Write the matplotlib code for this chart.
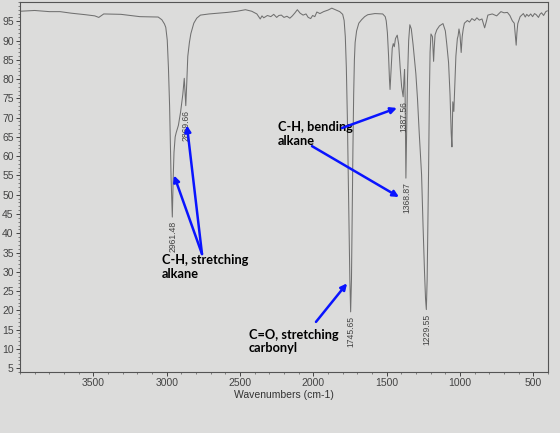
import matplotlib.pyplot as plt
from matplotlib.ticker import MultipleLocator

# IR spectrum (wavenumber cm-1, %T)
wavenumber = [
    4000, 3900, 3800, 3727, 3651, 3553, 3490, 3463, 3440, 3429, 3312, 3183,
    3058, 3033, 3015, 3006, 2996, 2988, 2980, 2970, 2961.48, 2955, 2950, 2942,
    2935, 2920, 2905, 2890, 2880, 2875, 2869.66, 2863, 2856, 2845, 2835, 2815,
    2795, 2770, 2711, 2650, 2587, 2520, 2463, 2420, 2385, 2362, 2350, 2338,
    2313, 2290, 2270, 2250, 2235, 2218, 2200, 2180, 2160, 2143, 2125, 2109,
    2090, 2070, 2050, 2035, 2018, 2005, 1990, 1976, 1955, 1930, 1900, 1874,
    1845, 1820, 1800, 1790, 1782, 1775, 1768, 1762, 1756, 1751, 1745.65, 1740,
    1735, 1730, 1725, 1720, 1715, 1705, 1690, 1671, 1650, 1629, 1580, 1527,
    1510, 1503, 1495, 1487, 1481, 1477, 1472, 1467, 1462, 1455, 1448, 1440,
    1428, 1418, 1408, 1398, 1387.56, 1382, 1378, 1374, 1371, 1368.87, 1364, 1358,
    1350, 1342, 1332, 1320, 1310, 1301, 1290, 1278, 1262, 1252, 1242, 1235,
    1229.55, 1224, 1219, 1214, 1209, 1204, 1198, 1188, 1183, 1180, 1176, 1170,
    1158, 1140, 1116, 1100, 1090, 1078, 1068, 1060, 1055, 1051, 1049, 1045,
    1042, 1036, 1028, 1018, 1013, 1007, 1000, 992, 985, 978, 970, 950,
    935, 919, 900, 885, 868, 850, 832, 820, 810, 780, 750, 721,
    700, 677, 660, 643, 630, 622, 617, 612, 606, 590, 568, 555,
    545, 532, 518, 505, 492, 480, 465, 455, 444, 430, 415, 405,
]
transmittance = [
    97.6, 97.8, 97.5, 97.5, 97.1, 96.7, 96.4, 96.0, 96.6, 96.9, 96.8, 96.2,
    96.1, 95.4, 94.3, 93.4, 90.1, 83.0, 73.0, 54.4, 44.2, 55.0, 61.0, 65.0,
    66.1, 68.0, 71.5, 76.0, 80.2, 77.0, 73.1, 79.0, 85.9, 89.5, 91.8, 94.5,
    95.8, 96.6, 96.9, 97.1, 97.3, 97.6, 98.0, 97.6, 96.9, 95.6, 96.4, 95.9,
    96.5, 96.2, 96.8, 96.0, 96.5, 96.6, 96.0, 96.3, 95.8, 96.4, 97.2, 98.0,
    97.1, 96.6, 96.9, 96.0, 95.7, 96.5, 96.2, 97.4, 97.0, 97.5, 97.9, 98.4,
    97.9, 97.5, 96.8, 95.2, 91.0, 83.0, 70.0, 55.0, 40.0, 28.0, 19.6, 28.0,
    45.0, 62.0, 76.0, 85.0, 89.5, 92.5, 94.5, 95.4, 96.2, 96.7, 97.0, 96.9,
    96.2, 95.1, 92.0, 86.0, 80.0, 77.3, 81.0, 85.0, 88.0, 89.2, 88.4, 90.5,
    91.4, 89.0, 83.0, 78.0, 75.4, 80.0, 82.5, 75.0, 63.0, 54.3, 66.0, 80.0,
    90.0, 94.1, 93.0, 89.0, 85.0, 81.4, 75.0, 66.0, 55.2, 42.0, 30.0, 23.0,
    20.2, 28.0, 42.0, 57.0, 75.0, 87.0, 91.7, 91.0, 87.0, 84.6, 88.0, 91.5,
    92.8, 93.8, 94.4, 92.5, 89.0, 84.3, 76.0, 66.0, 62.4, 70.0, 74.1, 72.5,
    71.6, 78.0, 86.0, 90.5, 91.2, 93.0, 91.5, 86.9, 91.0, 93.0, 94.5, 95.2,
    94.8, 95.7, 95.2, 95.9, 95.3, 95.6, 93.3, 95.0, 96.6, 96.9, 96.4, 97.5,
    97.2, 97.3, 96.5, 95.1, 94.5, 91.0, 88.8, 92.0, 94.4, 96.2, 97.0, 96.1,
    96.8, 96.3, 96.9, 96.2, 97.0, 96.7, 96.0, 96.8, 97.2, 96.5, 97.5, 97.7,
]

peak_wn = [2961.48, 2869.66, 1745.65, 1387.56, 1368.87, 1229.55]

x_ticks = [3500, 3000, 2500, 2000, 1500, 1000, 500]
y_ticks = list(range(5, 100, 5))

paper = '#dcdcdb'
blue = '#0a14ff'

fig = plt.figure(figsize=(5.6, 4.33), dpi=100, facecolor=paper)
ax = fig.add_axes([20 / 560, 61 / 433, 528 / 560, 370 / 433], facecolor=paper)

ax.plot(wavenumber, transmittance, color='#707070', lw=0.75)
ax.set_xlim(4000, 400)
ax.set_ylim(4, 100)

ax.set_xticks(x_ticks)
ax.set_yticks(y_ticks)
ax.xaxis.set_minor_locator(MultipleLocator(100))
ax.yaxis.set_minor_locator(MultipleLocator(1))
ax.tick_params(which='major', labelsize=7.5, colors='#444444', length=3, width=0.7,
               labelfontfamily='Liberation Sans', pad=1.5)
ax.tick_params(which='minor', colors='#555555', length=1.5, width=0.5)
ax.tick_params(axis='y', which='both', right=False)
ax.set_xlabel('Wavenumbers (cm-1)', fontsize=7.5, color='#333333',
              family='Liberation Sans', labelpad=1)
for s in ax.spines.values():
    s.set_color('#555555')
    s.set_linewidth(0.8)

# peak labels under each minimum
for p in peak_wn:
    t = transmittance[wavenumber.index(p)]
    ax.annotate(f'{p:.2f}', (p, t), xytext=(0.5, -3), textcoords='offset points',
                rotation=90, ha='center', va='top', fontsize=6.2,
                color='#444444', family='Liberation Sans')

# hand-drawn notes
note_kw = dict(fontsize=9.2, fontweight='bold', family='Lato', color='black',
               ha='left', va='top', linespacing=1.15)
ax.text(3032, 34.6, 'C-H, stretching\nalkane', **note_kw)
ax.text(2241, 69.1, 'C-H, bending\nalkane', **note_kw)
ax.text(2440, 15.2, 'C=O, stretching\ncarbonyl', **note_kw)

arrow = dict(arrowstyle='-|>', color=blue, lw=1.8, mutation_scale=9,
             shrinkA=0, shrinkB=0)
ax.annotate('', xy=(2950, 55), xytext=(2759, 34.6), arrowprops=arrow)
ax.annotate('', xy=(2862, 68), xytext=(2759, 34.6), arrowprops=arrow)
ax.annotate('', xy=(1430, 72.5), xytext=(1805, 67.3), arrowprops=arrow)
ax.annotate('', xy=(1416, 49.4), xytext=(2009, 62.6), arrowprops=arrow)
ax.annotate('', xy=(1770, 27), xytext=(1982, 17), arrowprops=arrow)

fig.savefig('out.png', dpi=100, facecolor=paper)
